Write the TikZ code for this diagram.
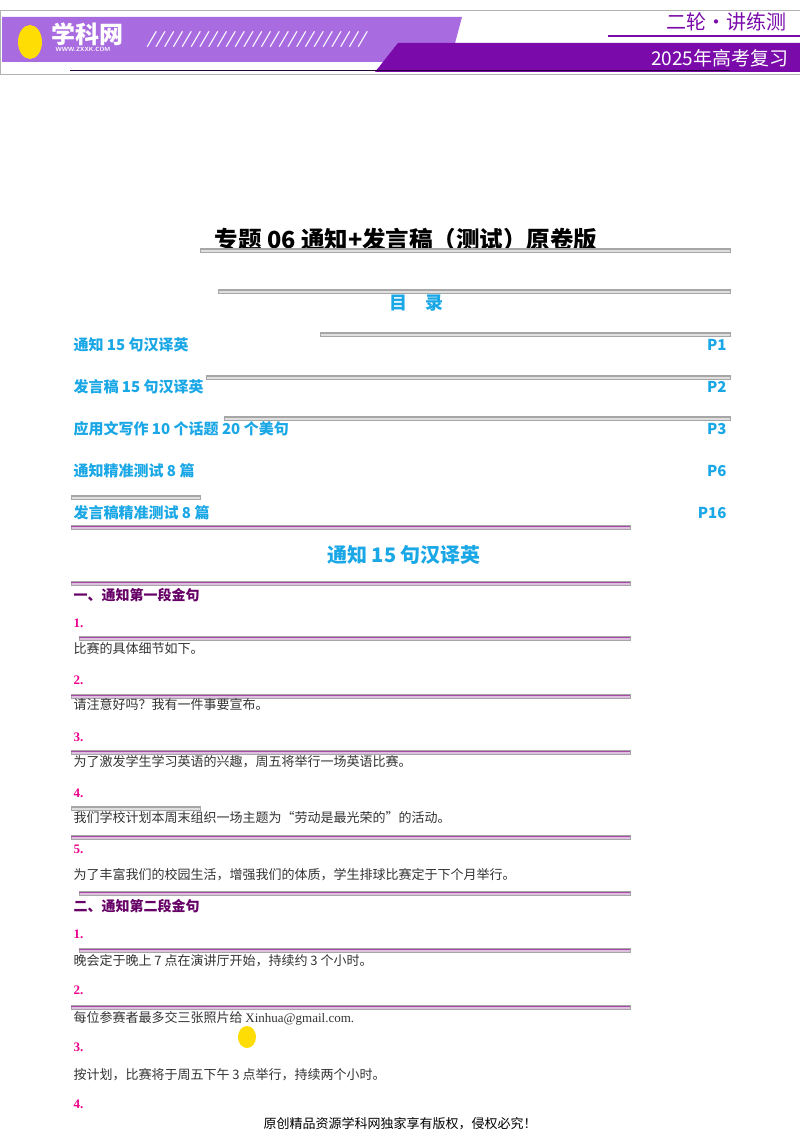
\documentclass[tikz,border=0pt]{standalone}
\usepackage{fontspec}
\setmainfont{Liberation Serif}
\newfontfamily\cjk{Noto Sans CJK SC}
\definecolor{cy}{HTML}{1AA7E6}
\begin{document}
\begin{tikzpicture}[x=1pt,y=-1pt,
  toc/.style={anchor=west,text=cy,font=\cjk\bfseries\fontsize{15}{17}\selectfont},
  tocp/.style={anchor=east,text=cy,font=\cjk\bfseries\fontsize{15}{17}\selectfont},
  sec/.style={anchor=west,text=violet!80!black,font=\cjk\bfseries\fontsize{14}{16}\selectfont},
  num/.style={anchor=west,text=magenta,font=\bfseries\fontsize{13}{15}\selectfont},
  body/.style={anchor=west,text=black!80,font=\cjk\fontsize{13}{15}\selectfont}]
\useasboundingbox[fill=white] (0,0) rectangle (800,1132);
\definecolor{lp}{HTML}{A96BE0}\definecolor{dp}{HTML}{7A0BAA}
% header
\draw[gray!60] (0,10) rectangle (800,74);
\fill[lp] (2,17) -- (462,17) -- (450,62) -- (2,62) -- cycle;
\fill[dp] (398,43) -- (800,43) -- (800,72) -- (375,72) -- cycle;
\fill[white] (2,64) -- (380,64) -- (379,67) -- (2,67) -- cycle;
\draw[dp,line width=2pt] (608,36) -- (800,36);
\draw[black!70!dp,line width=1pt] (70,71) -- (730,71);
\fill[yellow!80!orange] (30,42) ellipse (12 and 17);
\node[text=white,font=\cjk\bfseries\fontsize{24}{24}\selectfont,anchor=west] (logo) at (48,34) {学科网};
\node[text=white,font=\sffamily\bfseries\fontsize{6}{6}\selectfont,anchor=west] (www) at (52,49) {WWW.ZXXK.COM};
\node[text=white,font=\sffamily\itshape\bfseries\fontsize{16}{16}\selectfont,anchor=west] (sl) at (143,40) {/////////////////////////};
\node[text=dp,font=\cjk\fontsize{20}{20}\selectfont,anchor=east] (h1) at (790,22) {二轮·讲练测};
\node[text=white,font=\cjk\fontsize{19}{19}\selectfont,anchor=east] (h2) at (792,58) {2025年高考复习};
% title
\node[font=\cjk\bfseries\fontsize{23.5}{25}\selectfont] (title) at (406,240) {专题 06 通知+发言稿（测试）原卷版};
\node[text=cy,font=\cjk\bfseries\fontsize{18}{20}\selectfont] (ml) at (416,303) {目\quad 录};
\node[toc] (t1) at (70,345) {通知 15 句汉译英};\node[tocp] (p1) at (730,345) {P1};
\node[toc] (t2) at (70,387) {发言稿 15 句汉译英};\node[tocp] (p2) at (730,387) {P2};
\node[toc] (t3) at (70,429) {应用文写作 10 个话题 20 个美句};\node[tocp] (p3) at (730,429) {P3};
\node[toc] (t4) at (70,471) {通知精准测试 8 篇};\node[tocp] (p4) at (730,471) {P6};
\node[toc] (t5) at (70,513) {发言稿精准测试 8 篇};\node[tocp] (p5) at (730,513) {P16};
\node[text=cy,font=\cjk\bfseries\fontsize{20}{22}\selectfont] (h) at (404,555) {通知 15 句汉译英};
% rules
\foreach \y/\a/\b/\c in {250/200/730/gray,291/218/730/gray,334/320/730/gray,377/206/730/gray,418/224/730/gray,497/71/200/gray,527/71/630/violet,583/71/630/violet,638/79/630/violet,696/71/630/violet,752/71/630/violet,808/71/200/gray,837/71/630/violet,893/79/630/violet,950/79/630/violet,1007/71/630/violet}{
  \draw[gray!70,fill=\c!25] (\a,\y-2) rectangle (\b,\y+2);
  \draw[\c!70] (\a,\y-1) -- (\b,\y-1);}
\node[sec] (s1) at (70,595) {一、通知第一段金句};
\node[num] (n1) at (70,623) {1.};\node[body] (b1) at (70,649) {比赛的具体细节如下。};
\node[num] (n2) at (70,680) {2.};\node[body] (b2) at (70,705) {请注意好吗？我有一件事要宣布。};
\node[num] (n3) at (70,737) {3.};\node[body] (b3) at (70,762) {为了激发学生学习英语的兴趣，周五将举行一场英语比赛。};
\node[num] (n4) at (70,793) {4.};\node[body] (b4) at (70,818) {我们学校计划本周末组织一场主题为“劳动是最光荣的”的活动。};
\node[num] (n5) at (70,849) {5.};\node[body] (b5) at (70,875) {为了丰富我们的校园生活，增强我们的体质，学生排球比赛定于下个月举行。};
\node[sec] (s2) at (70,906) {二、通知第二段金句};
\node[num] (m1) at (70,934) {1.};\node[body] (c1) at (70,961) {晚会定于晚上 7 点在演讲厅开始，持续约 3 个小时。};
\node[num] (m2) at (70,990) {2.};\node[body] (c2) at (70,1018) {每位参赛者最多交三张照片给 \rmfamily Xinhua@gmail.com.};
\node[num] (m3) at (70,1047) {3.};\node[body] (c3) at (70,1075) {按计划，比赛将于周五下午 3 点举行，持续两个小时。};
\node[num] (m4) at (70,1104) {4.};
\fill[yellow!80!orange] (247,1037) ellipse (9 and 11);
\node[font=\cjk\fontsize{13}{15}\selectfont] (foot) at (400,1124) {原创精品资源学科网独家享有版权，侵权必究！};
\end{tikzpicture}
\end{document}
